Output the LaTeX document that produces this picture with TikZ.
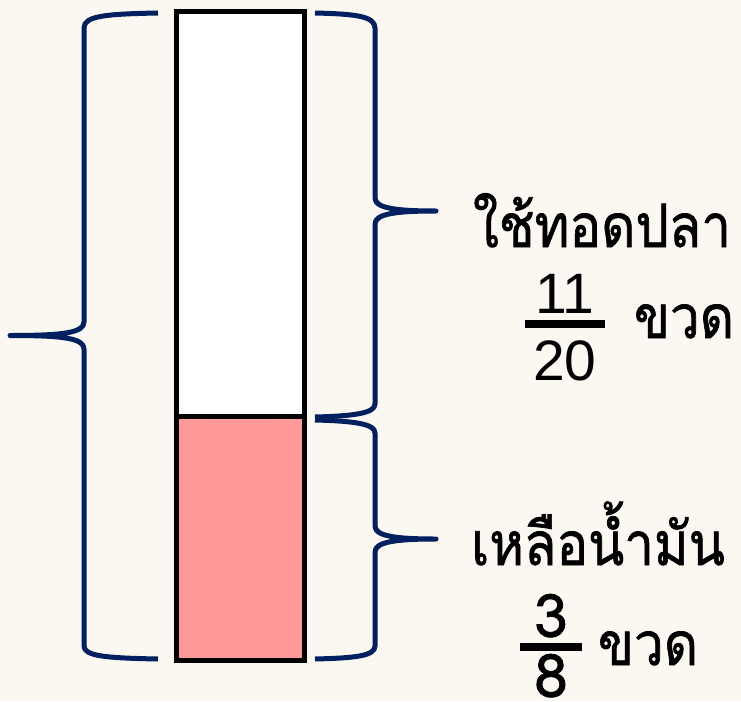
\documentclass[tikz,border=0pt]{standalone}
\usepackage{fontspec}
\usepackage{graphicx}
\newfontfamily\thaifont[Script=Thai,FakeBold=1.2]{Loma}
\newfontfamily\numfont{Liberation Sans}
\definecolor{bgc}{HTML}{FBF8F1}
\definecolor{navy}{HTML}{002060}
\definecolor{pinkfill}{HTML}{FF9999}
\newcommand{\thx}[1]{\scalebox{0.88}[1]{#1}}
\tikzset{
  brace/.style={draw=navy, line width=5pt, line cap=butt, line join=round},
  barbox/.style={draw=black, line width=5pt},
  thaitxt/.style={inner sep=0pt, font=\thaifont\fontsize{60}{62}\selectfont},
  numtxt/.style={inner sep=0pt, font=\numfont\fontsize{57}{60}\selectfont},
  fracbar/.style={draw=black, line width=8pt}
}
\begin{document}
\begin{tikzpicture}[x=1pt,y=-1pt]
\useasboundingbox[fill=bgc] (0,0) rectangle (741,701);
% bar
\fill[white] (176,12) rectangle (304,416);
\fill[pinkfill] (176,416) rectangle (304,660);
\draw[barbox] (176,12) rectangle (304,660);
\draw[barbox] (176,416) -- (304,416);
% coordinates for braces
\coordinate (L1) at (158,13);
\coordinate (Ltip) at (10,335.5);
\coordinate (L2) at (158,659);
\coordinate (R1) at (315,13);
\coordinate (Rtip1) at (436,211);
\coordinate (R2) at (315,417);
\coordinate (R3) at (315,420);
\coordinate (Rtip2) at (436,539);
\coordinate (R4) at (315,659);
% left brace
\draw[brace] (L1) .. controls (105,14) and (84,16) .. (84,28) -- (84,322)
  .. controls (84,333) and (62,335.5) .. (Ltip)
  .. controls (62,335.5) and (84,338) .. (84,349) -- (84,646)
  .. controls (84,656) and (105,658) .. (L2);
% right brace top
\draw[brace] (R1) .. controls (355,14) and (375,16) .. (375,28) -- (375,198)
  .. controls (375,208) and (395,211) .. (Rtip1)
  .. controls (395,211) and (375,214) .. (375,224) -- (375,404)
  .. controls (375,413) and (355,416) .. (R2);
% right brace bottom
\draw[brace] (R3) .. controls (355,421) and (375,424) .. (375,433) -- (375,526)
  .. controls (375,536) and (395,539) .. (Rtip2)
  .. controls (395,539) and (375,542) .. (375,552) -- (375,646)
  .. controls (375,656) and (355,658) .. (R4);
% texts
\node[thaitxt, anchor=base] (use) at (602,247) {\thx{ใช้ทอดปลา}};
\node[numtxt, anchor=base] (n11) at (565,313) {11};
\coordinate (b1a) at (525,324);
\coordinate (b1b) at (605,324);
\draw[fracbar] (b1a) -- (b1b);
\node[numtxt, anchor=base] (n20) at (565,380) {20};
\node[thaitxt, anchor=base] (unit1) at (684,338) {\thx{ขวด}};
\node[thaitxt, anchor=base] (left) at (598,565) {\thx{เหลือน้ำมัน}};
\node[thaitxt, anchor=base] (n3) at (551,637) {3};
\coordinate (b2a) at (520,647);
\coordinate (b2b) at (582,647);
\draw[fracbar] (b2a) -- (b2b);
\node[thaitxt, anchor=base] (n8) at (551,697) {8};
\node[thaitxt, anchor=base] (unit2) at (648,665) {\thx{ขวด}};
\end{tikzpicture}
\end{document}
